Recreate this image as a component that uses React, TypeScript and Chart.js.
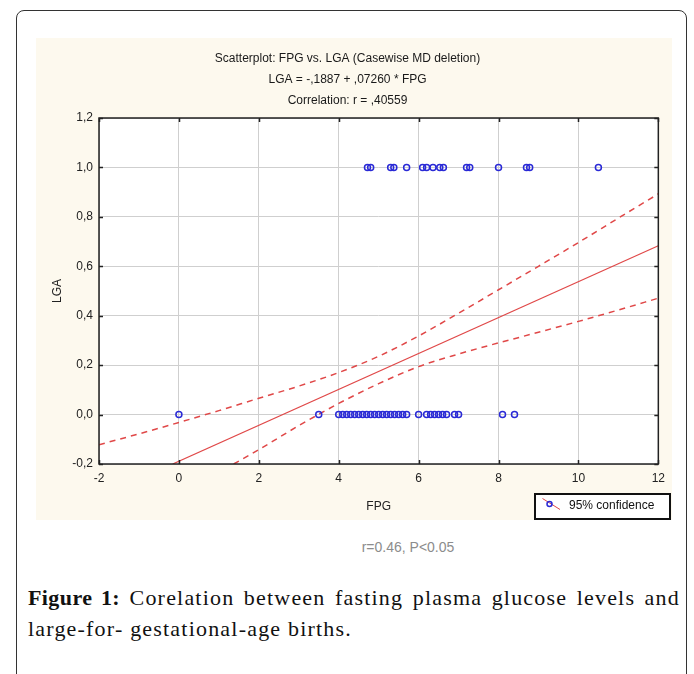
import React, { useEffect, useRef } from "react";
import { Chart, registerables } from "chart.js";

Chart.register(...registerables);

const TITLE_LINES = [
  "Scatterplot: FPG vs. LGA (Casewise MD deletion)",
  "LGA = -,1887 + ,07260 * FPG",
  "Correlation: r = ,40559",
];
const X_LABEL = "FPG";
const Y_LABEL = "LGA";
const LEGEND_LABEL = "95% confidence";
const NOTE = "r=0.46, P<0.05";

const X_MIN = -2;
const X_MAX = 12;
const X_STEP = 2;
const Y_MIN = -0.2;
const Y_MAX = 1.2;
const Y_STEP = 0.2;

// FPG values of cases with LGA = 1
const FPG_LGA_1 = [4.72, 4.8, 5.3, 5.38, 5.7, 6.1, 6.2, 6.36, 6.53, 6.62, 7.2, 7.28, 8.0, 8.7, 8.78, 10.5];
// FPG values of cases with LGA = 0
const FPG_LGA_0 = [
  0.0, 3.5, 4.0, 4.1, 4.2, 4.3, 4.4, 4.5, 4.6, 4.7, 4.8, 4.9, 5.0, 5.1, 5.2, 5.3, 5.4, 5.5, 5.6, 5.7,
  6.0, 6.2, 6.3, 6.4, 6.5, 6.6, 6.7, 6.9, 7.0, 8.1, 8.4,
];

// regression line endpoints
const REG_X = [-0.156, 12];
const REG_Y = [-0.2, 0.683];

// 95% confidence bands
const UPPER_X = [-2, -1, 0, 1, 2, 3, 4, 5, 6, 7, 8, 9, 10, 11, 12];
const UPPER_Y = [-0.122, -0.078, -0.032, 0.016, 0.066, 0.115, 0.17, 0.236, 0.318, 0.41, 0.505, 0.6, 0.696, 0.795, 0.893];
const LOWER_X = [1.37, 2, 3, 4, 5, 6, 7, 8, 9, 10, 11, 12];
const LOWER_Y = [-0.2, -0.142, -0.045, 0.045, 0.125, 0.194, 0.245, 0.29, 0.333, 0.377, 0.423, 0.471];

const POINT_COLOR = "#2a2ad6";
const LINE_COLOR = "#e04848";
const FONT = "'Liberation Sans', Arial, sans-serif";

const fmt = (v: number) => {
  const n = Math.abs(v) < 1e-9 ? 0 : v;
  return n.toFixed(1).replace(".", ",");
};

const framePlugin = {
  id: "frameAndLegend",
  beforeDraw(chart: any) {
    const { ctx, chartArea: a } = chart;
    ctx.save();
    ctx.fillStyle = "#ffffff";
    ctx.fillRect(a.left, a.top, a.right - a.left, a.bottom - a.top);
    ctx.restore();
  },
  afterDraw(chart: any) {
    const { ctx, chartArea: a, scales } = chart;
    ctx.save();
    // inner tick marks
    ctx.strokeStyle = "#222";
    ctx.lineWidth = 1.5;
    const tl = 4;
    ctx.beginPath();
    for (let v = X_MIN; v <= X_MAX + 1e-9; v += X_STEP) {
      const x = Math.round(scales.x.getPixelForValue(v)) + 0.5;
      ctx.moveTo(x, a.bottom);
      ctx.lineTo(x, a.bottom - tl);
      ctx.moveTo(x, a.top);
      ctx.lineTo(x, a.top + tl);
    }
    for (let i = 0; i <= Math.round((Y_MAX - Y_MIN) / Y_STEP); i++) {
      const v = Y_MIN + i * Y_STEP;
      const y = Math.round(scales.y.getPixelForValue(v)) + 0.5;
      ctx.moveTo(a.left, y);
      ctx.lineTo(a.left + tl, y);
      ctx.moveTo(a.right, y);
      ctx.lineTo(a.right - tl, y);
    }
    ctx.stroke();
    // frame
    ctx.strokeRect(a.left, a.top, a.right - a.left, a.bottom - a.top);

    // legend box
    const bx = 499, by = 456, bw = 135, bh = 25;
    ctx.fillStyle = "#fff";
    ctx.fillRect(bx, by, bw, bh);
    ctx.lineWidth = 2;
    ctx.strokeStyle = "#111";
    ctx.strokeRect(bx, by, bw, bh);
    ctx.lineWidth = 1;
    ctx.strokeStyle = LINE_COLOR;
    ctx.beginPath();
    ctx.moveTo(506.5, 460.5);
    ctx.lineTo(524, 471.5);
    ctx.stroke();
    ctx.strokeStyle = POINT_COLOR;
    ctx.lineWidth = 1.5;
    ctx.beginPath();
    ctx.arc(513.5, 466, 2.5, 0, Math.PI * 2);
    ctx.stroke();
    ctx.fillStyle = "#111";
    ctx.font = `12px ${FONT}`;
    ctx.textBaseline = "middle";
    ctx.textAlign = "left";
    ctx.fillText(LEGEND_LABEL, 533, 468);
    ctx.restore();
  },
};

function ScatterChart() {
  const ref = useRef<HTMLCanvasElement | null>(null);
  useEffect(() => {
    if (!ref.current) return;
    const chart = new Chart(ref.current, {
      type: "scatter",
      data: {
        datasets: [
          {
            label: "LGA=1",
            data: FPG_LGA_1.map((x) => ({ x, y: 1 })),
            pointRadius: 3,
            pointBorderWidth: 1.5,
            pointBorderColor: POINT_COLOR,
            pointBackgroundColor: "rgba(0,0,0,0)",
            showLine: false,
            order: 0,
          },
          {
            label: "LGA=0",
            data: FPG_LGA_0.map((x) => ({ x, y: 0 })),
            pointRadius: 3,
            pointBorderWidth: 1.5,
            pointBorderColor: POINT_COLOR,
            pointBackgroundColor: "rgba(0,0,0,0)",
            showLine: false,
            order: 0,
          },
          {
            label: "regression",
            data: REG_X.map((x, i) => ({ x, y: REG_Y[i] })),
            showLine: true,
            pointRadius: 0,
            borderColor: LINE_COLOR,
            borderWidth: 1.2,
            order: 1,
          },
          {
            label: "upper",
            data: UPPER_X.map((x, i) => ({ x, y: UPPER_Y[i] })),
            showLine: true,
            pointRadius: 0,
            borderColor: LINE_COLOR,
            borderWidth: 1.5,
            borderDash: [6, 5],
            cubicInterpolationMode: "monotone",
            order: 1,
          },
          {
            label: "lower",
            data: LOWER_X.map((x, i) => ({ x, y: LOWER_Y[i] })),
            showLine: true,
            pointRadius: 0,
            borderColor: LINE_COLOR,
            borderWidth: 1.5,
            borderDash: [6, 5],
            cubicInterpolationMode: "monotone",
            order: 1,
          },
        ],
      },
      options: {
        responsive: false,
        animation: false,
        events: [],
        layout: { padding: { left: 0, right: 13, top: 0, bottom: 0 } },
        plugins: {
          legend: { display: false },
          tooltip: { enabled: false },
          title: {
            display: true,
            text: TITLE_LINES,
            color: "#1a1a1a",
            font: { family: FONT, size: 12, weight: "normal", lineHeight: "21px" },
            padding: { top: 10, bottom: 7 },
          },
        },
        scales: {
          x: {
            type: "linear",
            min: X_MIN,
            max: X_MAX,
            ticks: { stepSize: X_STEP, color: "#222", font: { family: FONT, size: 12 }, padding: 7 },
            grid: { color: "#cfcfcf", lineWidth: 1, drawTicks: false },
            border: { display: false },
            title: {
              display: true,
              text: X_LABEL,
              color: "#222",
              font: { family: FONT, size: 12 },
              padding: { top: 0, bottom: 6 },
            },
            afterFit: (s: any) => {
              s.height = 56;
            },
          },
          y: {
            type: "linear",
            min: Y_MIN,
            max: Y_MAX,
            ticks: {
              stepSize: Y_STEP,
              color: "#222",
              font: { family: FONT, size: 12 },
              padding: 6,
              callback: (v: any) => fmt(Number(v)),
            },
            grid: { color: "#cfcfcf", lineWidth: 1, drawTicks: false },
            border: { display: false },
            title: {
              display: true,
              text: Y_LABEL,
              color: "#222",
              font: { family: FONT, size: 12 },
              padding: { top: 14, bottom: 0 },
            },
            afterFit: (s: any) => {
              s.width = 63;
            },
          },
        },
      },
      plugins: [framePlugin],
    } as any);
    return () => chart.destroy();
  }, []);
  return <canvas ref={ref} width={636} height={482} style={{ width: 636, height: 482, display: "block" }} />;
}

export default function App() {
  return (
    <div
      style={{
        position: "fixed",
        left: 0,
        top: 0,
        width: 694,
        height: 674,
        overflow: "hidden",
        background: "#fff",
      }}
    >
      <div
        style={{
          position: "absolute",
          left: 16,
          top: 10,
          width: 671,
          height: 720,
          border: "1.5px solid #333",
          borderRadius: 8,
          boxSizing: "border-box",
        }}
      />
      <div style={{ position: "absolute", left: 36, top: 38, width: 636, height: 482, background: "#fdf9ee" }}>
        <ScatterChart />
      </div>
      <div
        style={{
          position: "absolute",
          left: 308,
          top: 539,
          width: 200,
          textAlign: "center",
          fontFamily: FONT,
          fontSize: 14,
          color: "#8c8c8c",
        }}
      >
        {NOTE}
      </div>
      <div
        style={{
          position: "absolute",
          left: 28,
          top: 582,
          width: 652,
          fontFamily: "'Liberation Serif', 'Times New Roman', serif",
          fontSize: 22,
          letterSpacing: "1.2px",
          lineHeight: "31px",
          textAlign: "justify",
          color: "#111",
        }}
      >
        <b style={{ letterSpacing: "0.4px" }}>Figure 1:</b> Corelation between fasting plasma glucose levels and
        large-for- gestational-age births.
      </div>
    </div>
  );
}
